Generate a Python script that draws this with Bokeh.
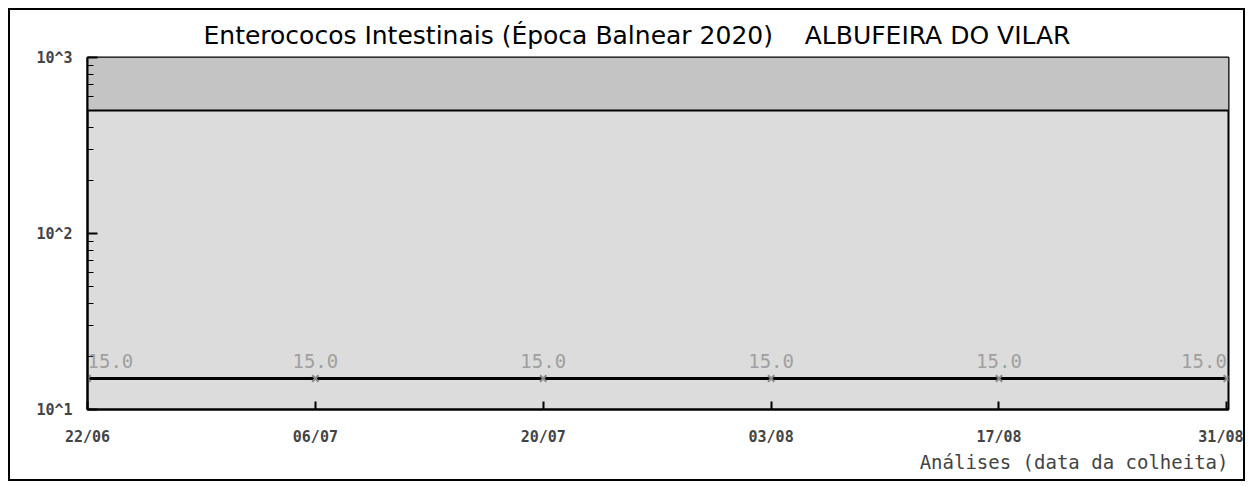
import numpy as np
from bokeh.plotting import figure
from bokeh.models import (ColumnDataSource, FixedTicker, LabelSet, Title, Range1d,
                          BoxAnnotation, Span)
from bokeh.core.properties import value
from bokeh.embed import file_html
from bokeh.resources import INLINE

# ---- data ----
dates = ["2020-06-22", "2020-07-06", "2020-07-20", "2020-08-03", "2020-08-17", "2020-08-31"]
tick_labels = ["22/06", "06/07", "20/07", "03/08", "17/08", "31/08"]
values = [15.0, 15.0, 15.0, 15.0, 15.0, 15.0]
value_labels = ["15.0", "15.0", "15.0", "15.0", "15.0", "15.0"]
threshold = 500
y_min, y_max = 10, 1000
y_ticks = [10, 100, 1000]
y_tick_labels = ["10^1", "10^2", "10^3"]
title_text = "Enterococos Intestinais (Época Balnear 2020)\u00a0\u00a0\u00a0\u00a0ALBUFEIRA DO VILAR"
x_label = "Análises (data da colheita)"

x_ms = [float(np.datetime64(d, "ms").astype("int64")) for d in dates]
day = 86400000.0

p = figure(width=1237, height=473, y_axis_type="log",
           x_range=Range1d(x_ms[0], x_ms[-1] + 0.1 * day),
           y_range=Range1d(y_min, y_max),
           output_backend="svg", toolbar_location=None,
           min_border_left=77, min_border_right=19, min_border_top=47, min_border_bottom=74,
           background_fill_color="#dcdcdc", border_fill_color="white",
           styles={"border": "2px solid black", "margin-left": "8px", "margin-top": "8px"})

p.title = Title(text=title_text, text_font="DejaVu Sans", text_font_size="25px",
                text_font_style="normal", align="left", offset=116, standoff=16,
                text_color="black")

p.add_layout(BoxAnnotation(bottom=threshold, top=y_max, fill_color="#c4c4c4",
                           fill_alpha=1.0, line_alpha=0, level="underlay"))
p.add_layout(Span(location=threshold, dimension="width", line_color="black", line_width=2))

p.grid.visible = False
p.outline_line_color = "black"
p.outline_line_width = 2

# y axis
minor = [m * 10 ** e for e in (1, 2) for m in range(2, 10)]
p.yaxis.ticker = FixedTicker(ticks=y_ticks, minor_ticks=minor)
p.yaxis.major_label_overrides = {t: l for t, l in zip(y_ticks, y_tick_labels)}
p.yaxis.major_label_text_font = "DejaVu Sans Mono"
p.yaxis.major_label_text_font_style = "bold"
p.yaxis.major_label_text_font_size = "15px"
p.yaxis.major_label_standoff = 15
p.yaxis.major_tick_in = 10
p.yaxis.major_tick_out = 0
p.yaxis.minor_tick_in = 6
p.yaxis.minor_tick_out = 0
p.yaxis.axis_line_width = 2
p.yaxis.major_tick_line_width = 2

# x axis
p.xaxis.ticker = FixedTicker(ticks=x_ms, minor_ticks=[])
p.xaxis.major_label_overrides = {x: l for x, l in zip(x_ms, tick_labels)}
p.xaxis.major_label_text_font = "DejaVu Sans Mono"
p.xaxis.major_label_text_font_style = "bold"
p.xaxis.major_label_text_font_size = "15px"
p.xaxis.major_label_standoff = 18
p.xaxis.major_tick_in = 8
p.xaxis.major_tick_out = 0
p.xaxis.axis_line_width = 2
p.xaxis.major_tick_line_width = 2

p.add_layout(Title(text=x_label, text_font="DejaVu Sans Mono", text_font_size="19px",
                   text_font_style="normal", align="right", standoff=0), "below")

aligns = ["center"] * len(dates)
aligns[0] = "left"
aligns[-1] = "right"
src = ColumnDataSource(dict(x=x_ms, y=values, lab=value_labels, al=aligns))

p.line("x", "y", source=src, line_color="black", line_width=3)
p.scatter("x", "y", source=src, marker="x", size=9, line_color="#8a8a8a", line_width=2)

p.add_layout(LabelSet(x="x", y="y", text="lab", source=src, text_align="al",
                      text_baseline="bottom", y_offset=11,
                      text_font=value("DejaVu Sans Mono"), text_font_size=value("19px"),
                      text_color="#a0a0a0"))

open("out.html", "w").write(file_html(p, INLINE))
